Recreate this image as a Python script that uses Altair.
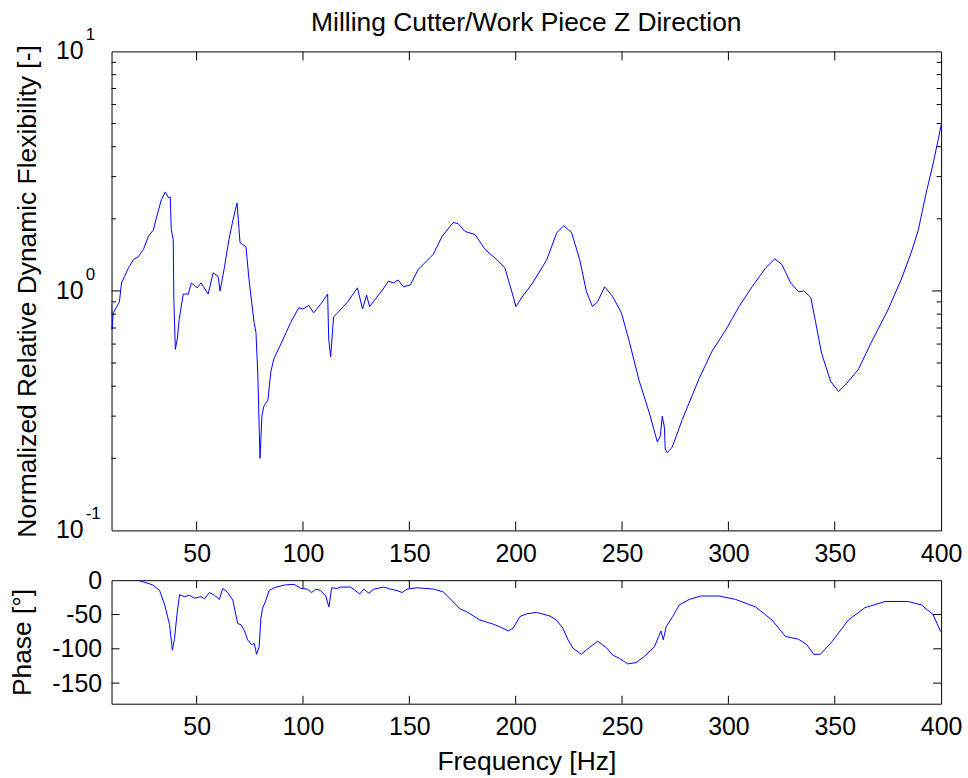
import altair as alt
import pandas as pd

# ---------------- data ----------------
freq_mag = [10.0, 10.2, 10.8, 13.7, 14.7, 16.1, 18.0, 20.3, 22.6, 25.0,
            27.3, 29.7, 31.1, 33.4, 35.3, 36.7, 37.6, 38.1, 39.0, 39.3,
            40.0, 40.9, 41.8, 43.7, 46.1, 47.5, 50.3, 52.1, 55.4, 57.8,
            60.1, 61.0, 62.9, 65.2, 67.1, 69.0, 70.4, 73.2, 74.6, 77.0,
            77.9, 78.8, 79.8, 80.7, 81.6, 83.5, 84.9, 86.3, 89.6, 94.3,
            98.0, 99.9, 102.7, 105.0, 108.3, 111.6, 112.1, 113.0, 114.4, 116.3,
            121.0, 125.6, 128.0, 129.9, 131.3, 137.4, 140.2, 142.5, 144.8, 147.2,
            150.5, 154.2, 161.2, 165.4, 170.6, 172.9, 176.2, 180.9, 185.6, 191.2,
            194.9, 198.2, 200.1, 202.9, 208.0, 214.6, 219.3, 222.6, 226.3, 230.1,
            233.3, 236.1, 238.5, 241.8, 245.5, 249.7, 253.5, 258.1, 262.8, 266.6,
            268.0, 268.9, 269.9, 270.3, 271.3, 273.6, 278.3, 286.2, 292.3, 298.9,
            305.0, 311.1, 317.6, 321.8, 325.1, 329.3, 333.1, 335.4, 338.7, 341.0,
            343.8, 348.0, 351.8, 355.5, 361.1, 367.2, 375.2, 381.3, 386.0, 389.3,
            393.0, 396.3, 398.6, 400.0]
magnitude = [0.88, 0.69, 0.81, 0.90, 1.08, 1.15, 1.25, 1.35, 1.39, 1.49,
             1.69, 1.80, 2.02, 2.40, 2.59, 2.45, 2.47, 1.80, 1.64, 0.92,
             0.57, 0.63, 0.76, 0.97, 0.97, 1.08, 1.03, 1.08, 0.97, 1.19,
             1.15, 1.00, 1.23, 1.64, 1.98, 2.33, 1.59, 1.53, 1.12, 0.74,
             0.67, 0.44, 0.20, 0.30, 0.33, 0.35, 0.46, 0.52, 0.60, 0.74,
             0.85, 0.84, 0.87, 0.81, 0.88, 0.97, 0.63, 0.53, 0.78, 0.81,
             0.90, 1.03, 0.84, 0.96, 0.86, 1.01, 1.10, 1.08, 1.11, 1.04,
             1.06, 1.23, 1.42, 1.69, 1.93, 1.91, 1.77, 1.72, 1.49, 1.35,
             1.25, 0.99, 0.86, 0.94, 1.08, 1.35, 1.75, 1.87, 1.75, 1.35,
             0.99, 0.86, 0.90, 1.04, 0.95, 0.81, 0.61, 0.42, 0.31, 0.234,
             0.248, 0.30, 0.27, 0.219, 0.211, 0.223, 0.29, 0.43, 0.56, 0.69,
             0.86, 1.04, 1.25, 1.36, 1.29, 1.08, 0.99, 1.00, 0.94, 0.74,
             0.55, 0.42, 0.38, 0.41, 0.47, 0.61, 0.84, 1.12, 1.45, 1.80,
             2.57, 3.42, 4.27, 4.92]

freq_phase = [22.5, 29.5, 32.6, 35.0, 37.3, 38.6, 39.6, 40.9, 42.0, 44.3,
              46.6, 49.0, 52.1, 53.7, 56.0, 58.4, 60.7, 62.3, 64.6, 67.0,
              69.3, 70.9, 72.4, 74.0, 75.8, 77.1, 78.2, 79.4, 80.2, 81.0,
              82.6, 84.1, 86.5, 91.1, 95.8, 99.0, 102.1, 104.0, 106.0, 108.3,
              110.7, 112.2, 113.5, 116.1, 117.7, 122.4, 126.7, 128.6, 131.0, 133.3,
              138.0, 141.1, 144.2, 146.6, 148.9, 153.6, 161.4, 166.0, 169.2, 173.9,
              177.0, 183.2, 189.4, 192.6, 196.5, 198.8, 202.0, 205.1, 209.8, 216.0,
              219.1, 222.2, 224.6, 226.9, 230.8, 234.7, 238.6, 242.5, 245.6, 248.8,
              252.7, 256.6, 260.5, 265.2, 267.2, 268.3, 269.4, 270.7, 273.8, 276.9,
              281.6, 287.1, 295.6, 303.4, 312.8, 320.5, 326.8, 333.0, 336.9, 340.1,
              343.2, 348.6, 356.4, 364.2, 373.6, 384.5, 390.7, 396.2, 399.8]
phase = [0, -7, -15, -36, -65, -102, -85, -46, -21, -24,
         -22, -26, -24, -27, -18, -22, -28, -12, -18, -29,
         -63, -65, -73, -87, -94, -92, -108, -97, -56, -41,
         -29, -15, -11, -7, -6, -12, -13, -18, -13, -15,
         -23, -39, -11, -12, -10, -10, -20, -13, -19, -13,
         -10, -13, -15, -18, -13, -11, -13, -17, -27, -42,
         -46, -58, -64, -68, -74, -70, -53, -49, -47, -52,
         -58, -70, -87, -99, -108, -98, -89, -98, -109, -114,
         -122, -120, -111, -97, -82, -74, -87, -68, -53, -36,
         -28, -23, -23, -28, -39, -58, -82, -86, -94, -108,
         -108, -90, -58, -40, -31, -31, -36, -50, -75]

x_labels = [50, 100, 150, 200, 250, 300, 350, 400]
x_inner_ticks = [50, 100, 150, 200, 250, 300, 350]
decades = [0.1, 1, 10]
decade_exp = ["-1", "0", "1"]
mag_major_inner = [1]
mag_minor = [0.2, 0.3, 0.4, 0.5, 0.6, 0.7, 0.8, 0.9, 2, 3, 4, 5, 6, 7, 8, 9]
phase_labels = [-150, -100, -50, 0]
phase_inner_ticks = [-150, -100, -50]

TITLE = "Milling Cutter/Work Piece Z Direction"
FONT = "Liberation Sans"
W, H1, H2 = 833, 481, 124
BLUE = "#0000ff"
TFS = 26.5

mag_df = pd.DataFrame({"f": freq_mag, "v": magnitude})
ph_df = pd.DataFrame({"f": freq_phase, "p": phase})
xt_df = pd.DataFrame({"f": x_inner_ticks})
dec_df = pd.DataFrame({"v": decades, "e": decade_exp, "b": ["10"] * len(decades)})
ymaj_df = pd.DataFrame({"v": mag_major_inner})
ymin_df = pd.DataFrame({"v": mag_minor})
pt_df = pd.DataFrame({"p": phase_inner_ticks})

xscale = alt.Scale(domain=[10, 400], nice=False, zero=False)
yscale_mag = alt.Scale(type="log", domain=[0.1, 10], nice=False)
yscale_ph = alt.Scale(domain=[-180, 0], nice=False, zero=False)

LBL = dict(labelFontSize=25, labelColor="black", labelFont=FONT,
           titleFontSize=TFS, titleFontWeight="normal", titleColor="black", titleFont=FONT,
           ticks=False, tickSize=0, domain=False, grid=False)

x_axis_top = alt.Axis(values=x_labels, title=None, labelPadding=11, labelFlush=False,
                      labelOverlap=False, **LBL)
x_axis_bot = alt.Axis(values=x_labels, title="Frequency [Hz]", labelPadding=11,
                      labelFlush=False, labelOverlap=False, titlePadding=9, **LBL)
y_axis_mag = alt.Axis(title="Normalized Relative Dynamic Flexibility [-]", labels=False,
                      titlePadding=70, **LBL)
y_axis_ph = alt.Axis(values=phase_labels, labelExpr="datum.value + ''", title="Phase [°]",
                     labelPadding=10, titlePadding=15, **LBL)


def xrules(df, h, ln, axis):
    xenc = alt.X("f:Q", scale=xscale, axis=axis)
    bot = alt.Chart(df).mark_rule(color="black", strokeWidth=1).encode(
        x=xenc, y=alt.value(h), y2=alt.value(h - ln))
    top = alt.Chart(df).mark_rule(color="black", strokeWidth=1).encode(
        x=xenc, y=alt.value(0), y2=alt.value(ln))
    return [bot, top]


def yrules(df, field, scale, ln, axis):
    yenc = alt.Y(field, scale=scale, axis=axis)
    left = alt.Chart(df).mark_rule(color="black", strokeWidth=1).encode(
        y=yenc, x=alt.value(0), x2=alt.value(ln))
    right = alt.Chart(df).mark_rule(color="black", strokeWidth=1).encode(
        y=yenc, x=alt.value(W - ln), x2=alt.value(W))
    return [left, right]


# ---------------- top panel: magnitude ----------------
mag_line = alt.Chart(mag_df).mark_line(color=BLUE, strokeWidth=1, clip=True).encode(
    x=alt.X("f:Q", scale=xscale, axis=x_axis_top),
    y=alt.Y("v:Q", scale=yscale_mag, axis=y_axis_mag),
)

dec_base = alt.Chart(dec_df).mark_text(align="right", baseline="middle", fontSize=25,
                                       font=FONT, color="black").encode(
    y=alt.Y("v:Q", scale=yscale_mag, axis=y_axis_mag), x=alt.value(-28), text="b:N")
dec_exp = alt.Chart(dec_df).mark_text(align="left", baseline="alphabetic", dy=-11,
                                      fontSize=17, font=FONT, color="black").encode(
    y=alt.Y("v:Q", scale=yscale_mag, axis=y_axis_mag), x=alt.value(-26), text="e:N")

top = alt.layer(
    mag_line,
    *xrules(xt_df, H1, 9, x_axis_top),
    *yrules(ymaj_df, "v:Q", yscale_mag, 9, y_axis_mag),
    *yrules(ymin_df, "v:Q", yscale_mag, 4.5, y_axis_mag),
    dec_base, dec_exp,
).properties(
    width=W, height=H1,
    title=alt.TitleParams(TITLE, fontSize=TFS, fontWeight="normal", font=FONT,
                          color="black", anchor="middle", offset=-10),
)

# ---------------- bottom panel: phase ----------------
ph_line = alt.Chart(ph_df).mark_line(color=BLUE, strokeWidth=1, clip=True).encode(
    x=alt.X("f:Q", scale=xscale, axis=x_axis_bot),
    y=alt.Y("p:Q", scale=yscale_ph, axis=y_axis_ph),
)

bottom = alt.layer(
    ph_line,
    *xrules(xt_df, H2, 8, x_axis_bot),
    *yrules(pt_df, "p:Q", yscale_ph, 8, y_axis_ph),
).properties(width=W, height=H2)

chart = alt.vconcat(top, bottom, spacing=50, bounds="flush").properties(
    padding={"left": 9, "top": 8, "right": 5, "bottom": 5},
    background="white",
).configure(font=FONT).configure_view(stroke="black", strokeWidth=1)

chart.save("out.html", embed_options={"renderer": "svg", "actions": False})
